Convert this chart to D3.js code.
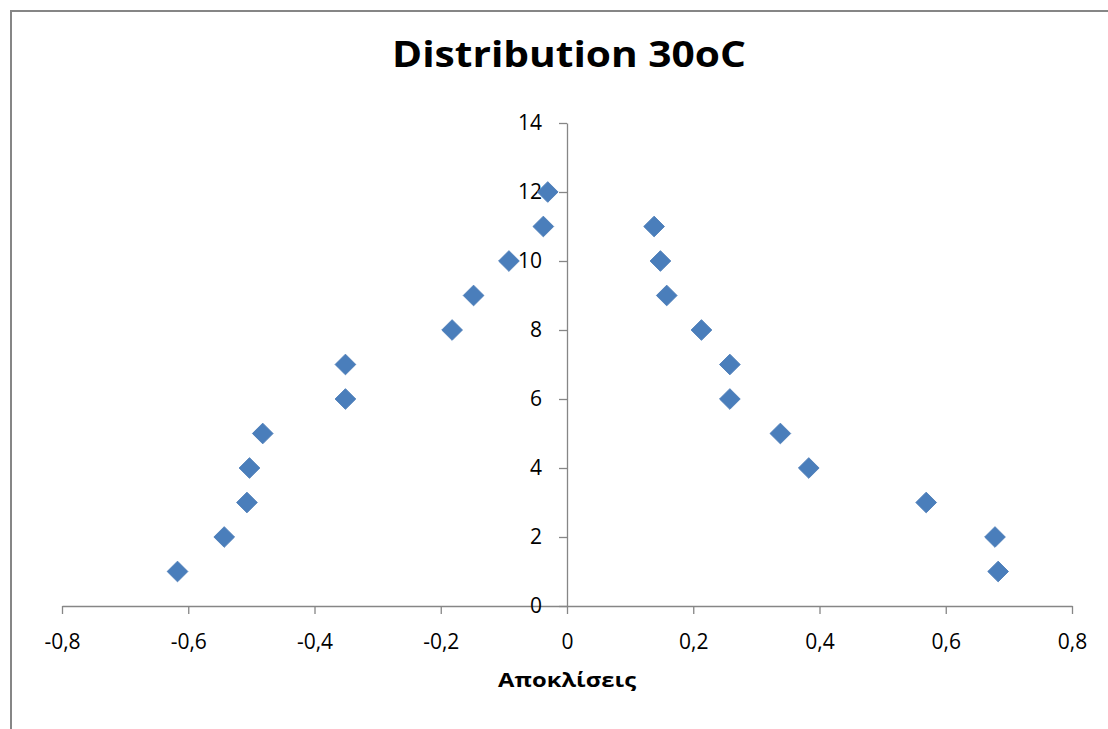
<!DOCTYPE html>
<html>
<head>
<meta charset="utf-8">
<script src="https://cdn.jsdelivr.net/npm/d3@7"></script>
<style>
  body { margin: 0; background: #fff; }
  text { font-family: "Open Sans", sans-serif; fill: #000; }
</style>
</head>
<body>
<div id="chart"></div>
<script>
// Distribution 30oC: rank vs deviation
const deviations = [-0.617, -0.543, -0.507, -0.503, -0.482, -0.351, -0.351, -0.182, -0.148, -0.092, -0.0375, -0.0305,
    0.138, 0.148, 0.158, 0.213, 0.258, 0.258, 0.338, 0.383, 0.569, 0.678, 0.683];
const ranks = [1, 2, 3, 4, 5, 6, 7, 8, 9, 10, 11, 12,
    11, 10, 9, 8, 7, 6, 5, 4, 3, 2, 1];
const xTicks = [-0.8, -0.6, -0.4, -0.2, 0, 0.2, 0.4, 0.6, 0.8];
const yTicks = [0, 2, 4, 6, 8, 10, 12, 14];
const chartTitle = "Distribution 30oC";
const xTitle = "Αποκλίσεις";

const points = deviations.map((d, i) => ({ x: d, y: ranks[i] }));

const width = 1108;
const height = 729;
const margin = { top: 123, right: 36, bottom: 123, left: 62 };

const svg = d3.select("#chart")
    .append("svg")
    .attr("width", width)
    .attr("height", height);

// chart frame (runs off the right and bottom edge)
svg.append("rect")
    .attr("x", 11)
    .attr("y", 11)
    .attr("width", width + 20)
    .attr("height", height + 20)
    .attr("fill", "none")
    .attr("stroke", "#868686")
    .attr("stroke-width", 2);

const xScale = d3.scaleLinear()
    .domain([-0.8, 0.8])
    .range([margin.left, width - margin.right]);

const yScale = d3.scaleLinear()
    .domain([0, 14])
    .range([height - margin.bottom, margin.top]);

// comma decimals, plain hyphen for minus
const fmt = d => String(d).replace(".", ",");

// x axis along y = 0
const xAxis = svg.append("g")
    .attr("transform", `translate(0,${yScale(0)})`)
    .call(d3.axisBottom(xScale).tickValues(xTicks).tickFormat(fmt).tickSize(8).tickSizeOuter(0).tickPadding(20));

// y axis along x = 0
const yAxis = svg.append("g")
    .attr("transform", `translate(${xScale(0)},0)`)
    .call(d3.axisLeft(yScale).tickValues(yTicks).tickFormat(fmt).tickSize(8).tickSizeOuter(0).tickPadding(17));

[xAxis, yAxis].forEach(g => {
    g.select(".domain").attr("stroke", "#868686").attr("stroke-width", 1.3);
    g.selectAll(".tick line").attr("stroke", "#868686").attr("stroke-width", 1.3);
    g.selectAll(".tick text")
        .style("font-family", "'Open Sans', sans-serif")
        .style("font-size", "21px")
        .attr("fill", "#000");
});

// markers
svg.selectAll(".pt")
    .data(points)
    .enter()
    .append("path")
    .attr("class", "pt")
    .attr("d", d3.symbol(d3.symbolSquare, 215))
    .attr("transform", d => `translate(${xScale(d.x)},${yScale(d.y)}) rotate(45)`)
    .attr("fill", "#4A7EBB")
    .attr("stroke", "#4779B5")
    .attr("stroke-width", 0.8);

// centred bold text, widened a little to the width of the original's Calibri
function wideText(str, cx, y, size, targetWidth) {
    const t = svg.append("text")
        .attr("text-anchor", "middle")
        .style("font-size", size + "px")
        .style("font-weight", "bold")
        .text(str);
    const k = targetWidth / t.node().getComputedTextLength();
    t.attr("transform", `translate(${cx},${y}) scale(${k},1)`);
}

wideText(chartTitle, 569, 67, 36, 354);
wideText(xTitle, 567, 687, 19, 138);
</script>
</body>
</html>
